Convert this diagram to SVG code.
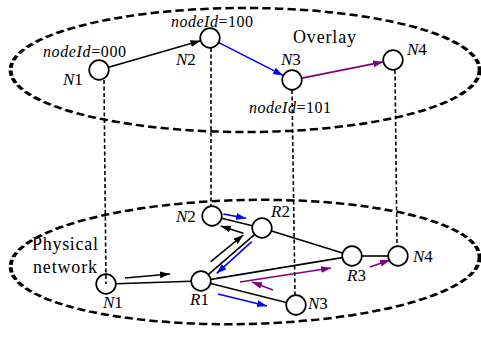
<svg xmlns="http://www.w3.org/2000/svg" width="481" height="338" viewBox="0 0 481 338">
<style>
.bg{fill:#fff}
.plane{fill:none;stroke:#000;stroke-width:2.5;stroke-dasharray:5.2 2.6}
.node{fill:#fff;stroke:#000;stroke-width:1.7}
.vl{fill:none;stroke:#000;stroke-width:1.6;stroke-dasharray:4 2.5}
.link{fill:none;stroke:#000;stroke-width:1.6}
.ak{fill:none;stroke:#000;stroke-width:1.6;marker-end:url(#hk)}
.ab{fill:none;stroke:#0000ff;stroke-width:1.6;marker-end:url(#hb)}
.ap{fill:none;stroke:#800080;stroke-width:1.6;marker-end:url(#hp)}
text{font-family:"Liberation Serif","Times New Roman",serif;fill:#000}
.lbl{font-size:16px}
.nl{font-size:17px}
.it{font-style:italic}
</style>
<defs>
<marker id="hk" markerUnits="userSpaceOnUse" markerWidth="11" markerHeight="8" refX="10" refY="3.5" orient="auto"><path d="M0,0 L10,3.5 L0,7 z" fill="#000"/></marker>
<marker id="hb" markerUnits="userSpaceOnUse" markerWidth="11" markerHeight="8" refX="10" refY="3.5" orient="auto"><path d="M0,0 L10,3.5 L0,7 z" fill="#0000ff"/></marker>
<marker id="hp" markerUnits="userSpaceOnUse" markerWidth="11" markerHeight="8" refX="10" refY="3.5" orient="auto"><path d="M0,0 L10,3.5 L0,7 z" fill="#800080"/></marker>
</defs>
<rect class="bg" x="0" y="0" width="481" height="338"/>
<g id="planes">
<g transform="scale(1.6,1)"><ellipse class="plane" cx="153.2" cy="70" rx="146.6" ry="62"/></g>
<g transform="rotate(-1.2,245,262)"><g transform="scale(1.6,1)"><ellipse class="plane" cx="153.2" cy="262" rx="146.6" ry="62"/></g></g>
</g>
<g id="connectors">
<path class="vl" d="M104,80 L106,284"/>
<path class="vl" d="M211,48 L211,206"/>
<path class="vl" d="M292,90 L295,295"/>
<path class="vl" d="M395,70 L397,246"/>
<path class="ak" d="M108.6,67.2 L200.4,40.8"/>
<path class="ab" d="M218.9,42.6 L283.1,75.4"/>
<path class="ap" d="M301.8,78.1 L383.2,61.9"/>
<path class="link" d="M116,283.8 L191,281.2"/>
<path class="link" d="M208.5,274.4 L254.5,234.6"/>
<path class="link" d="M221.7,218.3 L252.3,225.7"/>
<path class="link" d="M271.5,231 L342.5,253"/>
<path class="link" d="M210.9,279.4 L342.1,257.6"/>
<path class="link" d="M362,256 L388,256"/>
<path class="link" d="M210.7,283.5 L286.3,302.5"/>
<path class="ak" d="M125,278 L170,274"/>
<path class="ak" d="M210.7,261.7 L243.3,235"/>
<path class="ak" d="M243.3,233.3 L220.7,226"/>
<path class="ab" d="M223.3,214 L246,218.3"/>
<path class="ab" d="M251.7,241.7 L216.7,273.3"/>
<path class="ab" d="M218,294 L267,306"/>
<path class="ap" d="M240,282 L331,268"/>
<path class="ap" d="M273,290 L252,282"/>
<path class="ap" d="M370,267 L390,260"/>
</g>
<g id="overlay-label"><text x="293" y="43" font-size="18" textLength="63">Overlay</text></g>
<g id="o-N1"><circle class="node" cx="99" cy="70" r="9.8"/>
<text class="lbl" x="43" y="57" textLength="83"><tspan class="it">nodeId</tspan>=000</text>
<text class="nl" x="63" y="85"><tspan class="it">N</tspan>1</text></g>
<g id="o-N2"><circle class="node" cx="210" cy="38" r="9.8"/>
<text class="lbl" x="171" y="27" textLength="82"><tspan class="it">nodeId</tspan>=100</text>
<text class="nl" x="176" y="65"><tspan class="it">N</tspan>2</text></g>
<g id="o-N3"><circle class="node" cx="292" cy="80" r="9.8"/>
<text class="nl" x="281" y="65"><tspan class="it">N</tspan>3</text>
<text class="lbl" x="249" y="113" textLength="82"><tspan class="it">nodeId</tspan>=101</text></g>
<g id="o-N4"><circle class="node" cx="393" cy="60" r="9.8"/>
<text class="nl" x="407" y="55"><tspan class="it">N</tspan>4</text></g>
<g id="phys-label"><text x="32" y="250" font-size="18" textLength="66">Physical</text>
<text x="33" y="273" font-size="18" textLength="64">network</text></g>
<g id="p-N1"><circle class="node" cx="106" cy="284" r="9.8" style="fill:none"/>
<text class="nl" x="103" y="308"><tspan class="it">N</tspan>1</text></g>
<g id="p-R1"><circle class="node" cx="201" cy="281" r="9.8"/>
<text class="nl" x="190" y="305"><tspan class="it">R</tspan>1</text></g>
<g id="p-N2"><circle class="node" cx="212" cy="216" r="9.8"/>
<text class="nl" x="176" y="222"><tspan class="it">N</tspan>2</text></g>
<g id="p-R2"><circle class="node" cx="262" cy="228" r="9.8"/>
<text class="nl" x="271" y="217"><tspan class="it">R</tspan>2</text></g>
<g id="p-R3"><circle class="node" cx="352" cy="256" r="9.8"/>
<text class="nl" x="347" y="281"><tspan class="it">R</tspan>3</text></g>
<g id="p-N4"><circle class="node" cx="398" cy="256" r="9.8"/>
<text class="nl" x="413" y="262"><tspan class="it">N</tspan>4</text></g>
<g id="p-N3"><circle class="node" cx="296" cy="305" r="9.8"/>
<text class="nl" x="308" y="309"><tspan class="it">N</tspan>3</text></g>
</svg>
